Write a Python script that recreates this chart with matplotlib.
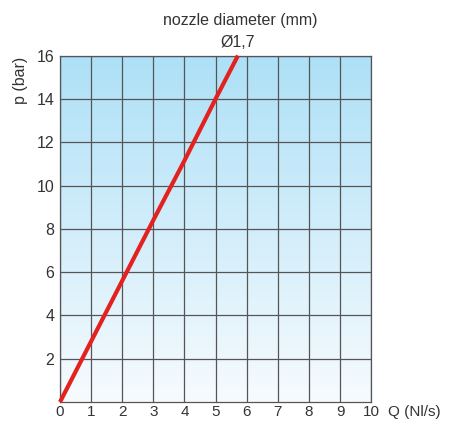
import numpy as np
import matplotlib
matplotlib.use('Agg')
import matplotlib.pyplot as plt
from matplotlib.colors import LinearSegmentedColormap

plt.rcParams['font.family'] = ['Liberation Sans', 'DejaVu Sans']

# flow rate Q (Nl/s) vs pressure p (bar) for the 1,7 mm nozzle
flow = [0, 1, 2, 3, 4, 5, 5.72]
pressure = [0, 2.8, 5.6, 8.4, 11.15, 14.0, 16]

x_ticks = list(range(0, 11))
y_ticks = list(range(2, 17, 2))

fig = plt.figure(figsize=(4.49, 4.21), dpi=100)
ax = fig.add_axes([0.1336, 0.045, 0.693, 0.823])

# vertical blue-to-white background
cmap = LinearSegmentedColormap.from_list('bg', ['#f7fbfe', '#ade0f7'])
grad = np.linspace(0, 1, 256).reshape(-1, 1)
ax.imshow(grad, extent=[0, 10, 0, 16], origin='lower', aspect='auto', cmap=cmap, zorder=0)

ax.plot(flow, pressure, color='#e3211f', lw=3, solid_capstyle='butt', zorder=3, clip_on=False)

ax.set_xlim(0, 10)
ax.set_ylim(0, 16)
ax.set_xticks(x_ticks)
ax.set_yticks(y_ticks)
ax.grid(True, color='#555555', lw=0.9, zorder=1)
ax.set_axisbelow(False)
for s in ax.spines.values():
    s.set_color('#555555')
    s.set_linewidth(0.9)
ax.tick_params(length=0, labelsize=11.5, labelcolor='#333333', pad=4)
ax.tick_params(axis='x', labelsize=11, pad=2)

fig.text(0.864, 0.004, 'Q (Nl/s)', fontsize=11, color='#333333', ha='left', va='bottom')
fig.text(0.045, 0.81, 'p (bar)', fontsize=11.5, color='#333333', rotation=90, ha='center', va='center')
fig.text(0.535, 0.952, 'nozzle diameter (mm)', fontsize=11.5, color='#333333', ha='center', va='center')
fig.text(0.53, 0.9, 'Ø1,7', fontsize=11.5, color='#333333', ha='center', va='center')

fig.savefig('out.png', dpi=100)
